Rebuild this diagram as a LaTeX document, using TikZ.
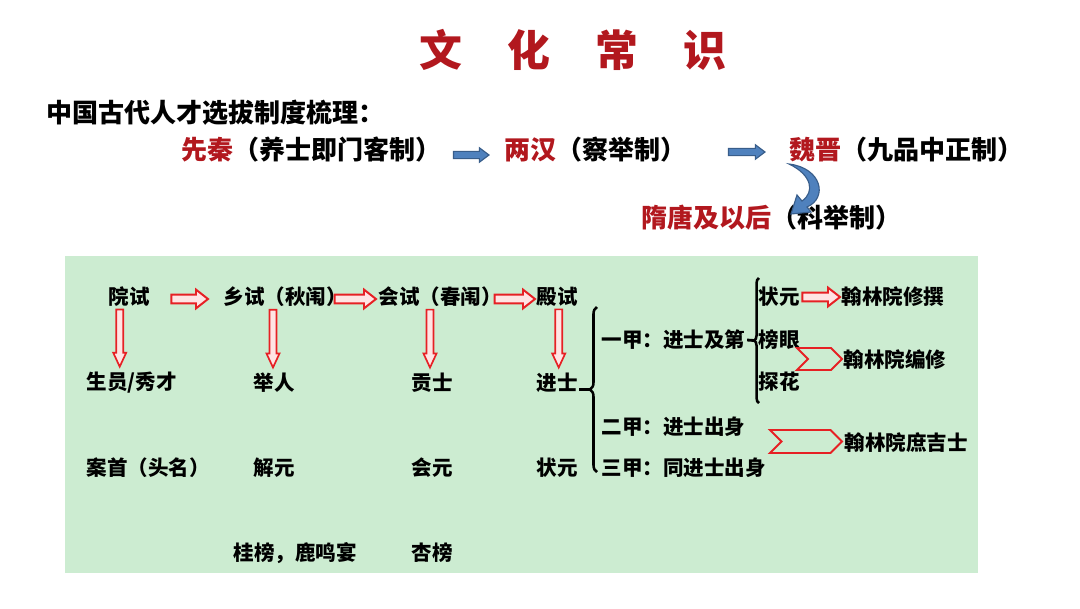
\documentclass[tikz,border=0pt]{standalone}
\usepackage{fontspec}
\setmainfont{Noto Sans CJK SC}
\usetikzlibrary{positioning,calc,shapes.symbols,decorations.pathreplacing}
\definecolor{EraRed}{RGB}{178,24,30}
\definecolor{BoardGreen}{RGB}{204,236,209}
\definecolor{ArrowRed}{RGB}{230,32,36}
\definecolor{ArrowPink}{RGB}{255,228,228}
\definecolor{ShapeBlue}{RGB}{79,129,189}
\definecolor{ShapeLine}{RGB}{56,93,138}
\newcommand{\era}[1]{\textcolor{EraRed}{#1}}
\tikzset{
  titletxt/.style={inner sep=0pt,text=EraRed,font=\fontsize{30.5}{34}\selectfont\bfseries},
  headtxt/.style={anchor=west,inner sep=1pt,font=\fontsize{18.5}{22}\selectfont\bfseries},
  boardtxt/.style={anchor=west,inner sep=1pt,font=\fontsize{14.6}{17}\selectfont\bfseries},
  rightblock/.style={to path={let \p1=(\tikztostart),\p2=(\tikztotarget) in
    (\x1,\y1+0.11cm) -- (\x2-0.3cm,\y1+0.11cm) -- (\x2-0.3cm,\y1+0.235cm) -- (\x2,\y1)
    -- (\x2-0.3cm,\y1-0.235cm) -- (\x2-0.3cm,\y1-0.11cm) -- (\x1,\y1-0.11cm) -- cycle}},
  slimblock/.style={to path={let \p1=(\tikztostart),\p2=(\tikztotarget) in
    (\x1,\y1+0.09cm) -- (\x2-0.24cm,\y1+0.09cm) -- (\x2-0.24cm,\y1+0.18cm) -- (\x2,\y1)
    -- (\x2-0.24cm,\y1-0.18cm) -- (\x2-0.24cm,\y1-0.09cm) -- (\x1,\y1-0.09cm) -- cycle}},
  downblock/.style={to path={let \p1=(\tikztostart),\p2=(\tikztotarget) in
    (\x1-0.0875cm,\y1) -- (\x1-0.0875cm,\y2+0.35cm) -- (\x1-0.1625cm,\y2+0.35cm) -- (\x1,\y2)
    -- (\x1+0.1625cm,\y2+0.35cm) -- (\x1+0.0875cm,\y2+0.35cm) -- (\x1+0.0875cm,\y1) -- cycle}},
  redflow/.style={rightblock,draw=ArrowRed,fill=ArrowPink,line width=1.4pt},
  reddrop/.style={downblock,draw=ArrowRed,fill=ArrowPink,line width=1.2pt},
  blueflow/.style={slimblock,draw=ShapeLine,fill=ShapeBlue,line width=0.8pt},
  bendshape/.style={draw=ShapeLine,fill=ShapeBlue,line width=0.8pt},
  chevron/.style={signal,signal from=west,signal to=east,draw=ArrowRed,line width=1.4pt,inner sep=0pt},
  bracket/.style={decorate,line width=1.8pt},
  stem/.style={line width=2pt}
}
\begin{document}
\begin{tikzpicture}[x=0.025cm,y=-0.025cm]
  \useasboundingbox (0,0) rectangle (1080,608);
  \fill[white] (0,0) rectangle (1080,608);
  \node[titletxt] (title) at (573,50) {文\hspace{1.05em}化\hspace{1.05em}常\hspace{1.05em}识};
  \node[headtxt] (intro) at (45,113) {中国古代人才选拔制度梳理：};
  \node[headtxt] (xianqin) at (180,150) {\era{先秦}（养士即门客制）};
  \node[headtxt] (lianghan) at (503,150) {\era{两汉}（察举制）};
  \node[headtxt] (weijin) at (788,150) {\era{魏晋}（九品中正制）};
  \node[headtxt] (suitang) at (640,218) {\era{隋唐及以后}（科举制）};
  \draw[blueflow] ($(xianqin.east)+(10,5)$) to ($(lianghan.west)+(-14,5)$);
  \draw[blueflow] ($(lianghan.east)+(40,2)$) to ($(weijin.west)+(-23,2)$);
  \draw[bendshape] (789,164) .. controls (822,168) and (828,198) .. (807,207) -- (811,212)
    -- (791,214) -- (797,195) -- (802,201) .. controls (815,192) and (812,175) .. (789,164) -- cycle;

  \fill[BoardGreen] (65,256) rectangle (978,573);
  \node[boardtxt] (yuanshi) at (107,297) {院试};
  \node[boardtxt] (xiangshi) at (222,297) {乡试（秋闱）};
  \node[boardtxt] (huishi) at (377,297) {会试（春闱）};
  \node[boardtxt] (dianshi) at (535,297) {殿试};
  \node[boardtxt] (shengyuan) at (85,383) {生员/秀才};
  \node[boardtxt] (juren) at (252,383) {举人};
  \node[boardtxt] (gongshi) at (410,383) {贡士};
  \node[boardtxt] (jinshi) at (535,383) {进士};
  \node[boardtxt] (anshou) at (85,468) {案首（头名）};
  \node[boardtxt] (jieyuan) at (252,468) {解元};
  \node[boardtxt] (huiyuan) at (410,468) {会元};
  \node[boardtxt] (zhuangyuan) at (535,468) {状元};
  \node[boardtxt] (guibang) at (232,553) {桂榜，鹿鸣宴};
  \node[boardtxt] (xingbang) at (410,553) {杏榜};
  \draw[redflow] ($(yuanshi.east)+(20,2)$) to ($(xiangshi.west)+(-14,2)$);
  \draw[redflow] ($(xiangshi.east)+(-14,2)$) to ($(huishi.west)+(-1,2)$);
  \draw[redflow] ($(huishi.east)+(-9,2)$) to ($(dianshi.west)+(0,2)$);
  \draw[reddrop] ($(yuanshi.south)+(-9.5,1)$) to ($(shengyuan.north)+(0,-4)$);
  \draw[reddrop] ($(xiangshi.south west)+(51,1)$) to ($(juren.north)+(0,-4)$);
  \draw[reddrop] ($(huishi.south west)+(53,1)$) to ($(gongshi.north)+(0,-4)$);
  \draw[reddrop] ($(dianshi.south)+(1.5,1)$) to ($(jinshi.north)+(0,-4)$);

  \node[boardtxt] (yijia) at (600,340) {一甲：进士及第};
  \node[boardtxt] (erjia) at (600,427) {二甲：进士出身};
  \node[boardtxt] (sanjia) at (600,468) {三甲：同进士出身};
  \coordinate (bigtip) at (590,389.5);
  \draw[bracket,decoration={brace,amplitude=5pt}] (597,472) -- (597,307);
  \draw[stem] (jinshi.east |- bigtip) -- (bigtip);
  \node[boardtxt] (zhuang) at (757,297) {状元};
  \node[boardtxt] (bangyan) at (757,340) {榜眼};
  \node[boardtxt] (tanhua) at (757,382) {探花};
  \coordinate (smalltip) at (754,340.5);
  \draw[bracket,decoration={brace,amplitude=3.5pt}] (759,403) -- (759,278);
  \draw[stem] (yijia.east) -- (smalltip);
  \node[boardtxt] (xiuzhuan) at (840,297) {翰林院修撰};
  \node[boardtxt] (bianxiu) at (842,360) {翰林院编修};
  \node[boardtxt] (shujishi) at (843,443) {翰林院庶吉士};
  \draw[redflow] ($(zhuang.east)+(1,0)$) to (xiuzhuan.west);
  \node[chevron,minimum width=1.125cm,minimum height=0.55cm] (chevA) at (819.5,359) {};
  \node[chevron,minimum width=1.8cm,minimum height=0.575cm] (chevB) at (806,441.5) {};
\end{tikzpicture}
\end{document}
